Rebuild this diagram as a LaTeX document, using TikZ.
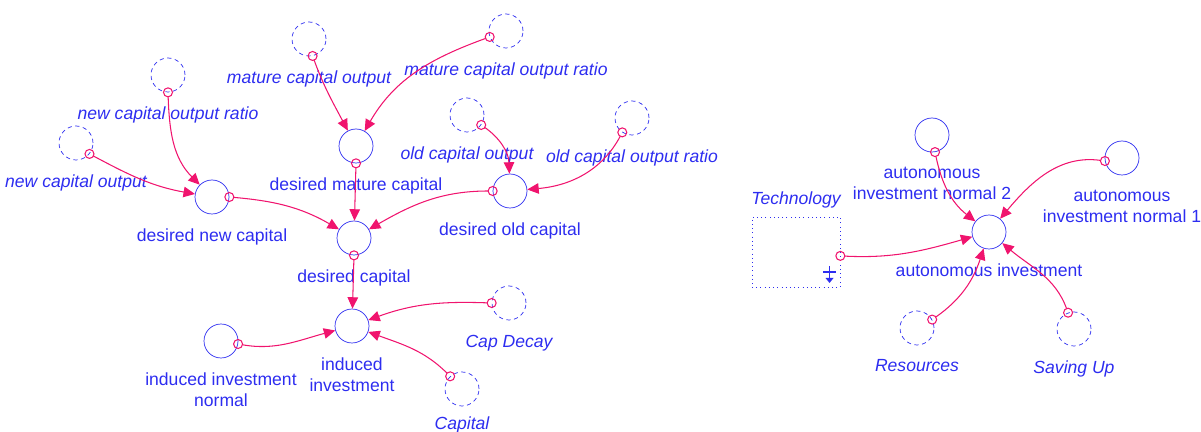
\documentclass[tikz,border=0pt]{standalone}
\usepackage{fontspec}
\setmainfont{Liberation Sans}
\usetikzlibrary{arrows.meta}
\definecolor{vblue}{RGB}{45,45,240}
\definecolor{lnk}{RGB}{240,20,110}
\tikzset{aux/.style={draw=vblue,circle,minimum size=0.68cm,inner sep=0pt},
  ghost/.style={aux,dash pattern=on 2.4pt off 2pt},
  lbl/.style={text=vblue,inner sep=0pt,align=center},
  ilbl/.style={lbl,font=\itshape},
  link/.style={draw=lnk,line width=0.6pt,shorten <=2.5pt,-{Triangle[length=6.5pt,width=6pt]}},
  tail/.style={draw=lnk,circle,minimum size=0.18cm,inner sep=0pt,line width=0.6pt}}

\begin{document}
\begin{tikzpicture}[x=0.02cm,y=0.02cm,label distance=8pt]
\useasboundingbox (0,0) rectangle (1201,-432);

\node[aux,label={[lbl]below:desired new capital}] (dnc) at (212,-197) {};
\node[aux,label={[lbl]below:desired mature capital}] (dmc) at (356,-146) {};
\node[aux,label={[lbl]below:desired capital}] (dc) at (354,-238) {};
\node[aux,label={[lbl]below:desired old capital}] (doc) at (510,-191) {};
\node[aux,label={[lbl]below:induced\\investment}] (ii) at (352,-326) {};
\node[aux,label={[lbl]below:induced investment\\normal}] (iin) at (221,-341) {};
\node[aux,label={[lbl]below:autonomous investment}] (ai) at (989,-232) {};
\node[aux,label={[lbl]below:autonomous\\investment normal 2}] (ain2) at (932,-135) {};
\node[aux,label={[lbl]below:autonomous\\investment normal 1}] (ain1) at (1122,-158) {};

\node[ghost,label={[ilbl]below:new capital output}] (ncout) at (76,-143) {};
\node[ghost,label={[ilbl]below:new capital output ratio}] (ncor) at (168,-75) {};
\node[ghost,label={[ilbl]below:mature capital output}] (mco) at (309,-39) {};
\node[ghost,label={[ilbl]below:mature capital output ratio}] (mcor) at (506,-31) {};
\node[ghost,label={[ilbl]below:old capital output}] (oco) at (467,-115) {};
\node[ghost,label={[ilbl]below:old capital output ratio}] (ocor) at (632,-118) {};
\node[ghost,label={[ilbl]below:Cap Decay}] (capd) at (509,-303) {};
\node[ghost,label={[ilbl,yshift=2pt]below:Capital}] (cap) at (462,-389) {};
\node[ghost,label={[ilbl]below:Resources}] (res) at (917,-328) {};
\node[ghost,label={[ilbl]below:Saving Up}] (sav) at (1074,-329) {};

\node[draw=vblue,dotted,minimum width=1.76cm,minimum height=1.4cm,inner sep=0pt,
  label={[ilbl,yshift=-3.4pt]above:Technology}] (tech) at (796,-252) {};
\draw[vblue,line width=1.1pt] (823,-272) -- (836,-272) (829.5,-266) -- (829.5,-281);
\fill[vblue] (825.5,-278) -- (833.5,-278) -- (829.5,-283) -- cycle;

\draw[link] (ncout.-39) node[tail]{} to[out=-28,in=170] (dnc);
\draw[link] (ncor.-90) node[tail]{} to[out=-88,in=135] (dnc);
\draw[link] (dnc.0) node[tail]{} to[out=-5,in=150] (dc);
\draw[link] (mco.-78) node[tail]{} to[out=-70,in=118] (dmc);
\draw[link] (mcor.200) node[tail]{} to[out=200,in=60] (dmc);
\draw[link] (dmc.-90) node[tail]{} -- (dc);
\draw[link] (oco.-35) node[tail]{} to[out=-35,in=92] (doc);
\draw[link] (ocor.236) node[tail]{} to[out=-118,in=5] (doc);
\draw[link] (doc.180) node[tail]{} to[out=180,in=30] (dc);
\draw[link] (dc.-90) node[tail]{} -- (ii);
\draw[link] (iin.-10) node[tail]{} to[out=-10,in=195] (ii);
\draw[link] (capd.180) node[tail]{} to[out=178,in=20] (ii);
\draw[link] (cap.133) node[tail]{} to[out=135,in=-20] (ii);
\draw[link] (ain2.-80) node[tail]{} to[out=-78,in=142] (ai);
\draw[link] (ain1.190) node[tail]{} to[out=172,in=50] (ai);
\draw[link] (tech.-5) node[tail]{} to[out=-3,in=196] (ai);
\draw[link] (res.29) node[tail]{} to[out=35,in=-108] (ai);
\draw[link] (sav.110) node[tail]{} to[out=110,in=-40] (ai);
\end{tikzpicture}
\end{document}
